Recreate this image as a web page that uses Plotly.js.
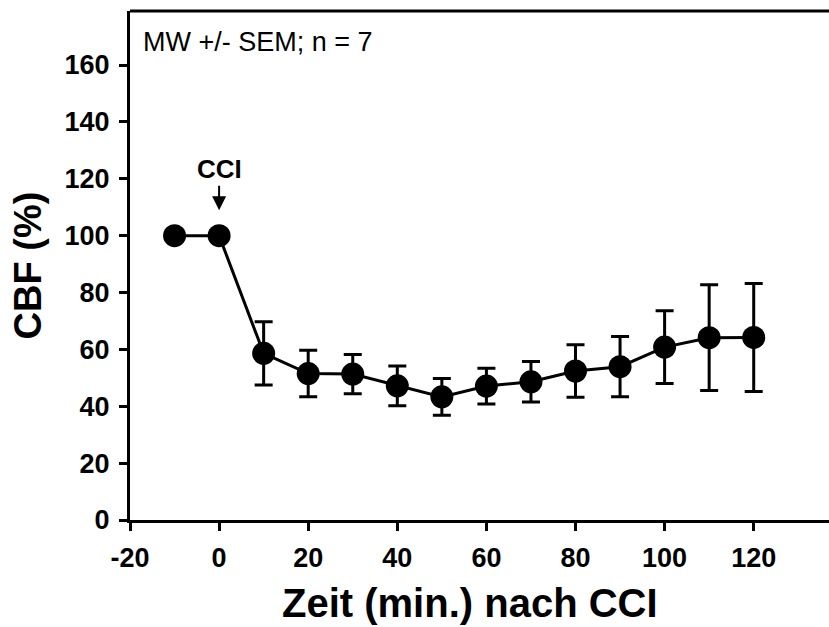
<!DOCTYPE html>
<html>
<head>
<meta charset="utf-8">
<script src="https://cdn.plot.ly/plotly-3.0.1.min.js"></script>
<style>html,body{margin:0;padding:0;background:#fff;}#chart{width:829px;height:627px;}</style>
</head>
<body>
<div id="chart"></div>
<script>
// Data
const timeMin = [-10, 0, 10, 20, 30, 40, 50, 60, 70, 80, 90, 100, 110, 120];
const cbfMean = [100, 100, 58.6, 51.5, 51.3, 47.2, 43.3, 47.1, 48.6, 52.4, 53.9, 60.8, 64.1, 64.2];
const cbfSem  = [0, 0, 11.1, 8.2, 6.9, 7.0, 6.5, 6.3, 7.1, 9.2, 10.6, 12.8, 18.6, 19.0];
const xTicks = [-20, 0, 20, 40, 60, 80, 100, 120];
const yTicks = [0, 20, 40, 60, 80, 100, 120, 140, 160];

const FONT = '"Liberation Sans", Arial, Helvetica, sans-serif';

const trace = {
  x: timeMin,
  y: cbfMean,
  type: 'scatter',
  mode: 'lines+markers',
  line: {color: '#000', width: 3},
  marker: {color: '#000', size: 23},
  error_y: {type: 'data', array: cbfSem, visible: true, color: '#000', thickness: 3, width: 9},
  showlegend: false,
  hoverinfo: 'skip'
};

const layout = {
  width: 829, height: 627,
  margin: {l: 130, r: 0, t: 11, b: 107},
  paper_bgcolor: '#fff', plot_bgcolor: '#fff',
  font: {family: FONT, color: '#000'},
  xaxis: {
    range: [-20, 136.9],
    tickvals: xTicks,
    ticktext: xTicks.map(String),
    showgrid: false, zeroline: false,
    showline: true, linecolor: '#000', linewidth: 3,
    ticks: 'outside', ticklen: 8, tickwidth: 3, tickcolor: '#000',
    ticklabelstandoff: 4,
    tickfont: {family: FONT, size: 27, weight: 'bold', color: '#000'}
  },
  yaxis: {
    range: [0, 179],
    tickvals: yTicks,
    ticktext: yTicks.map(String),
    showgrid: false, zeroline: false,
    showline: true, linecolor: '#000', linewidth: 3,
    ticks: 'outside', ticklen: 8, tickwidth: 3, tickcolor: '#000',
    ticklabelstandoff: 4,
    tickfont: {family: FONT, size: 27, weight: 'bold', color: '#000'},
    title: {text: '<b>CBF (%)</b>', font: {family: FONT, size: 38, color: '#000'}, standoff: 12}
  },
  shapes: [
    {type: 'line', xref: 'paper', yref: 'paper', x0: 0, x1: 1.01, y0: 1, y1: 1, line: {color: '#000', width: 3}}
  ],
  annotations: [
    {xref: 'paper', yref: 'paper', x: 0.016, y: 0.94, xanchor: 'left', yanchor: 'middle',
     text: 'MW +/- SEM; n = 7', showarrow: false, font: {family: FONT, size: 27, color: '#000'}},
    {x: 0, y: 108.9, xref: 'x', yref: 'y', text: '<b>CCI</b>', showarrow: true,
     ax: 0, ay: -41, arrowhead: 2, arrowsize: 1.4, arrowwidth: 2, arrowcolor: '#000',
     font: {family: FONT, size: 26, color: '#000'}},
    {xref: 'paper', yref: 'paper', x: 0.486, y: -0.163, xanchor: 'center', yanchor: 'middle',
     text: '<b>Zeit (min.) nach CCI</b>', showarrow: false, font: {family: FONT, size: 40, color: '#000'}}
  ]
};

Plotly.newPlot('chart', [trace], layout, {displayModeBar: false, staticPlot: true});
</script>
</body>
</html>
